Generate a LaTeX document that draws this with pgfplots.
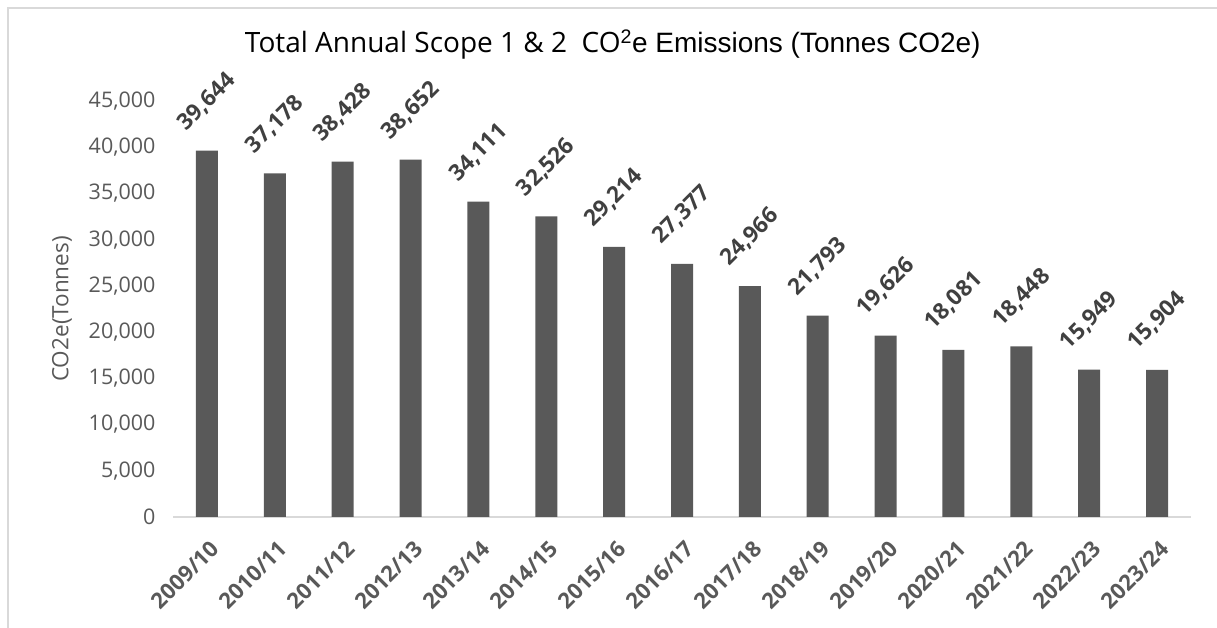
\documentclass[border=0pt]{standalone}
\usepackage{pgfplots}
\pgfplotsset{compat=1.18}
\usepackage{fontspec}
\setmainfont{Open Sans}
\newfontfamily\arialf{Liberation Sans}
\definecolor{barc}{HTML}{595959}
\definecolor{txtc}{HTML}{595959}
\definecolor{lblc}{HTML}{404040}
\definecolor{axc}{HTML}{D9D9D9}
\begin{document}
\begin{tikzpicture}
\useasboundingbox (0,0) rectangle (1217pt,628pt);
\clip (0,0) rectangle (1217pt,628pt);
\draw[axc, line width=2pt] (8pt,-10pt) |- (1230pt,620pt);
\begin{axis}[
  at={(173pt,111pt)}, anchor=south west,
  scale only axis, width=1018pt, height=416pt,
  ymin=0, ymax=45000,
  xmin=-0.5, xmax=14.5,
  ytick={0,5000,...,45000},
  xtick={0,...,14},
  xticklabels={2009/10,2010/11,2011/12,2012/13,2013/14,2014/15,2015/16,2016/17,2017/18,2018/19,2019/20,2020/21,2021/22,2022/23,2023/24},
  scaled y ticks=false,
  /pgf/number format/1000 sep={,},
  /pgf/number format/assume math mode=true,
  axis x line*=bottom, axis y line*=left,
  x axis line style={axc, line width=2pt, -},
  y axis line style={draw=none},
  major tick length=0pt,
  yticklabel style={font=\fontsize{21.5}{24}\selectfont, text=txtc, anchor=east, xshift=-14pt},
  xticklabel style={font=\fontsize{22}{26}\selectfont\bfseries, text=txtc, xshift=8pt, yshift=-28pt, rotate=45, anchor=east, inner sep=0pt},
  ylabel={CO2e(Tonnes)},
  ylabel style={font=\fontsize{22.5}{26}\selectfont, text=txtc, at={(axis description cs:-0.109,0.5)}, anchor=center},
  title={Total Annual Scope 1 \& 2\ \ CO{\arialf\textsuperscript{2}e Emissions (Tonnes CO2e)}},
  title style={font=\fontsize{28}{32}\selectfont, text=black, at={(axis description cs:0.432,1)}, anchor=center, yshift=50pt},
  ybar, bar width=22pt,
  nodes near coords,
  every node near coord/.append style={font=\fontsize{22.5}{26}\selectfont\bfseries, text=lblc, yshift=49pt, rotate=45, anchor=center},
  clip=false,
]
\addplot[fill=barc, draw=none] coordinates {
(0,39644) (1,37178) (2,38428) (3,38652) (4,34111) (5,32526) (6,29214) (7,27377)
(8,24966) (9,21793) (10,19626) (11,18081) (12,18448) (13,15949) (14,15904)};
\end{axis}
\end{tikzpicture}
\end{document}
